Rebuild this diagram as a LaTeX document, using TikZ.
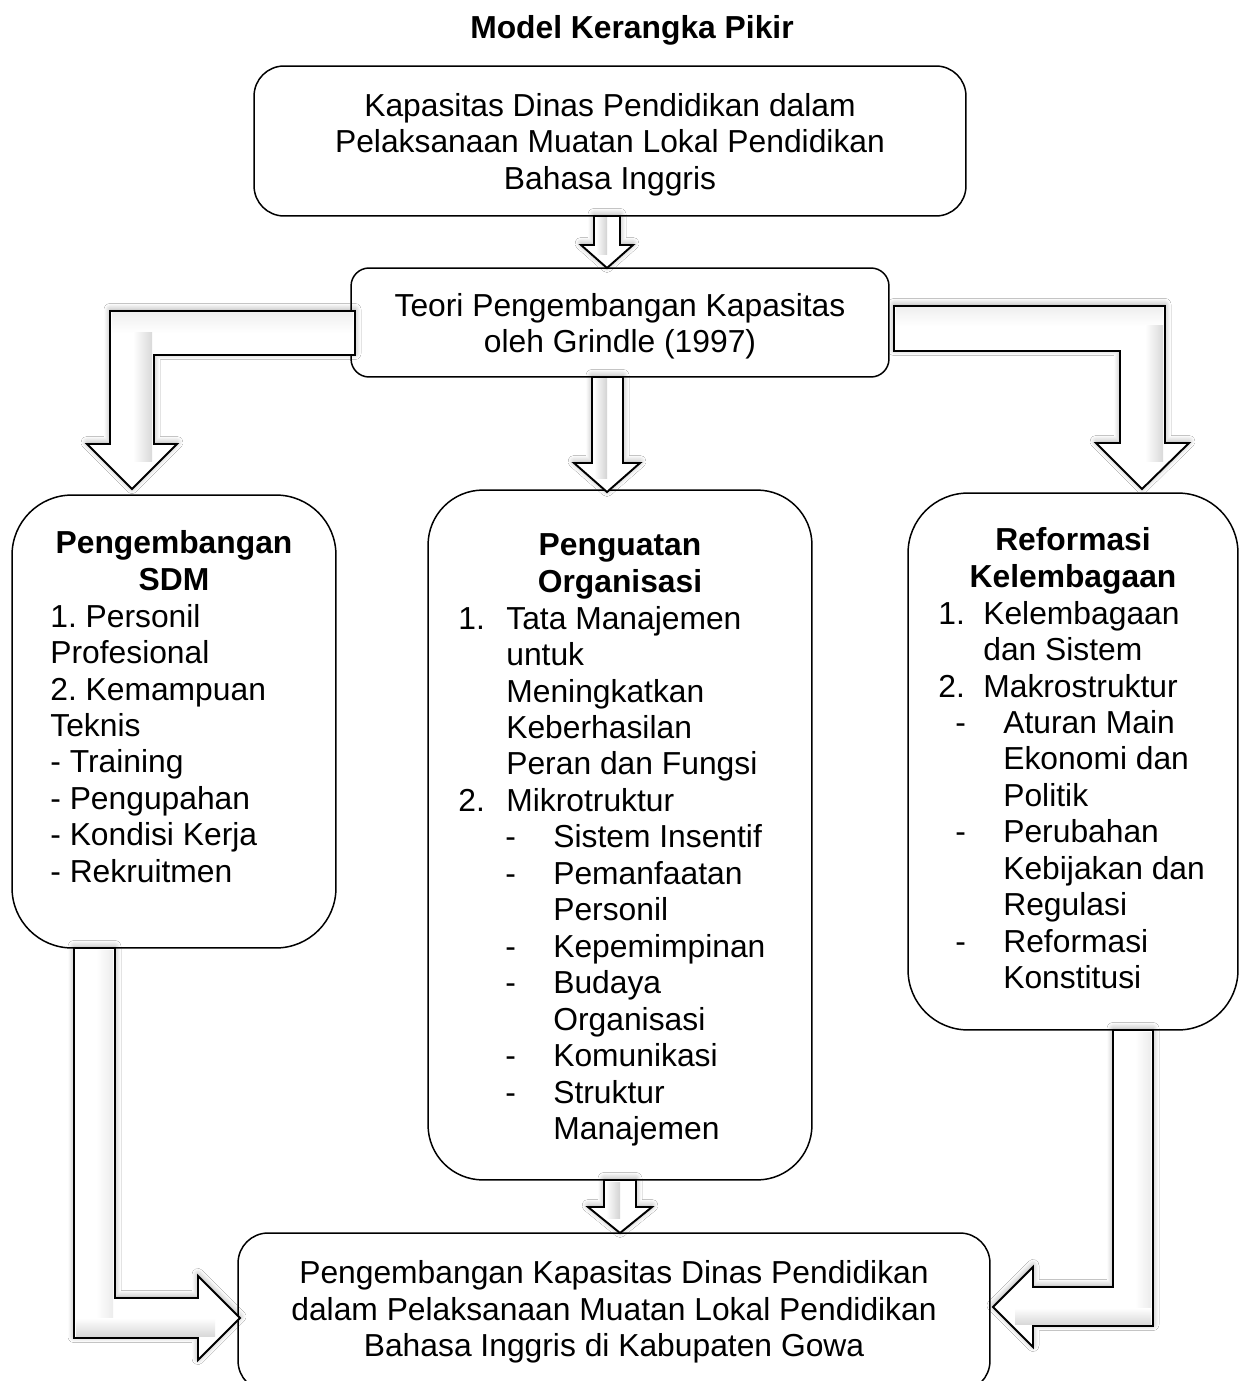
\documentclass[tikz,border=0pt]{standalone}
\usepackage{fontspec}
\setmainfont{Liberation Sans}
\usetikzlibrary{shadows.blur}

\newcommand{\barisatas}{\rule{0pt}{17.2pt}}

\tikzset{
  kotak/.style={draw, line width=0.85pt, rounded corners=#1, inner sep=0pt, align=center},
  kotak/.default=0.6cm,
  isi/.style={inner sep=0pt, align=left},
  judul/.style={inner sep=0pt, align=center, font=\fontsize{18.1pt}{20.75pt}\selectfont\frenchspacing\bfseries},
  panah/.style={draw, line width=1.1pt, fill=white},
  bayang/.style={blur shadow={shadow xshift=0pt, shadow yshift=0.3mm, shadow opacity=35, shadow blur radius=1.2mm, shadow blur steps=8}},
}

\begin{document}
\begin{tikzpicture}[x=0.02cm, y=-0.02cm, font=\fontsize{18.1pt}{20.75pt}\selectfont\frenchspacing]
  \clip (0,0) rectangle (1244,1381);
  \fill[white] (0,0) rectangle (1244,1381);

  % judul
  \node[judul, anchor=base] (judul) at (632,39) {Model Kerangka Pikir};

  % kotak atas
  \node[kotak=0.6cm, minimum width=14.24cm, minimum height=3cm] (kapasitas) at (610,141)
    {\barisatas Kapasitas Dinas Pendidikan dalam\\Pelaksanaan Muatan Lokal Pendidikan\\Bahasa Inggris};
  \node[kotak=0.36cm, minimum width=10.76cm, minimum height=2.18cm] (teori) at (620,322.5)
    {\barisatas Teori Pengembangan Kapasitas\\oleh Grindle (1997)};

  % tiga dimensi
  \node[kotak=1.2cm, minimum width=6.48cm, minimum height=9.06cm] (sdm) at (174,721.5) {};
  \node[kotak=1.1cm, minimum width=7.68cm, minimum height=13.8cm] (org) at (620,835) {};
  \node[kotak=1.2cm, minimum width=6.6cm, minimum height=10.74cm] (ref) at (1073,761.5) {};

  \node[judul, anchor=north] (sdmjudul) at (174,530.5) {Pengembangan\\SDM};
  \node[isi, anchor=north west] (sdmisi) at (50,603.7)
    {1. Personil\\Profesional\\2. Kemampuan\\Teknis\\- Training\\- Pengupahan\\- Kondisi Kerja\\- Rekruitmen};

  \node[judul, anchor=north] (orgjudul) at (620,533.5) {Penguatan\\Organisasi};
  \node[isi, anchor=north west] (orgisi) at (458,605.7)
    {\makebox[0.96cm][l]{1.}Tata Manajemen\\
     \hspace*{0.96cm}untuk\\
     \hspace*{0.96cm}Meningkatkan\\
     \hspace*{0.96cm}Keberhasilan\\
     \hspace*{0.96cm}Peran dan Fungsi\\
     \makebox[0.96cm][l]{2.}Mikrotruktur\\
     \hspace*{0.94cm}\makebox[0.96cm][l]{-}Sistem Insentif\\
     \hspace*{0.94cm}\makebox[0.96cm][l]{-}Pemanfaatan\\
     \hspace*{1.9cm}Personil\\
     \hspace*{0.94cm}\makebox[0.96cm][l]{-}Kepemimpinan\\
     \hspace*{0.94cm}\makebox[0.96cm][l]{-}Budaya\\
     \hspace*{1.9cm}Organisasi\\
     \hspace*{0.94cm}\makebox[0.96cm][l]{-}Komunikasi\\
     \hspace*{0.94cm}\makebox[0.96cm][l]{-}Struktur\\
     \hspace*{1.9cm}Manajemen};

  \node[judul, anchor=north] (refjudul) at (1073,527.5) {Reformasi\\Kelembagaan};
  \node[isi, anchor=north west] (refisi) at (938,600.7)
    {\makebox[0.9cm][l]{1.}Kelembagaan\\
     \hspace*{0.9cm}dan Sistem\\
     \makebox[0.9cm][l]{2.}Makrostruktur\\
     \hspace*{0.34cm}\makebox[0.96cm][l]{-}Aturan Main\\
     \hspace*{1.3cm}Ekonomi dan\\
     \hspace*{1.3cm}Politik\\
     \hspace*{0.34cm}\makebox[0.96cm][l]{-}Perubahan\\
     \hspace*{1.3cm}Kebijakan dan\\
     \hspace*{1.3cm}Regulasi\\
     \hspace*{0.34cm}\makebox[0.96cm][l]{-}Reformasi\\
     \hspace*{1.3cm}Konstitusi};

  % kotak hasil
  \node[kotak=0.6cm, minimum width=15.04cm, minimum height=3.16cm] (hasil) at (614,1312)
    {Pengembangan Kapasitas Dinas Pendidikan\\dalam Pelaksanaan Muatan Lokal Pendidikan\\Bahasa Inggris di Kabupaten Gowa};

  % panah lurus
  \draw[panah, bayang] (594,216) -- (620,216) -- (620,245) -- (633,245) -- (607,268) -- (581,245) -- (594,245) -- cycle;
  \shade[left color=white, right color=gray!35] (596,218) rectangle (607,255);

  \draw[panah, bayang] (592,377) -- (623,377) -- (623,463) -- (640,463) -- (607,492) -- (574,463) -- (592,463) -- cycle;
  \shade[left color=white, right color=gray!35] (594,379) rectangle (607,478);

  \draw[panah, bayang] (604,1180) -- (636,1180) -- (636,1207) -- (652,1207) -- (620,1233) -- (588,1207) -- (604,1207) -- cycle;
  \shade[left color=white, right color=gray!35] (606,1182) rectangle (620,1218);

  % panah belok atas
  \draw[panah, bayang] (355,311) -- (110,311) -- (110,444) -- (87,444) -- (132,489) -- (177,444) -- (154,444) -- (154,355) -- (355,355) -- cycle;
  \shade[top color=gray!12, bottom color=white] (112,313) rectangle (353,333);
  \shade[left color=white, right color=gray!30] (133,333) rectangle (152,462);

  \draw[panah, bayang] (894,306) -- (1165,306) -- (1165,443) -- (1189,443) -- (1142,489) -- (1096,443) -- (1120,443) -- (1120,351) -- (894,351) -- cycle;
  \shade[top color=gray!12, bottom color=white] (896,308) rectangle (1163,326);
  \shade[left color=white, right color=gray!30] (1145,326) rectangle (1163,462);

  % panah belok bawah
  \draw[panah, bayang] (74,948) -- (115,948) -- (115,1298) -- (198,1298) -- (198,1276) -- (240,1318) -- (198,1360) -- (198,1338) -- (74,1338) -- cycle;
  \shade[left color=white, right color=gray!15] (96,950) rectangle (113,1318);
  \shade[top color=white, bottom color=gray!30] (76,1318) rectangle (215,1336);

  \draw[panah, bayang] (1153,1030) -- (1113,1030) -- (1113,1287) -- (1033,1287) -- (1033,1267) -- (993,1307) -- (1033,1347) -- (1033,1326) -- (1153,1326) -- cycle;
  \shade[left color=white, right color=gray!15] (1135,1032) rectangle (1151,1307);
  \shade[top color=white, bottom color=gray!30] (1015,1308) rectangle (1151,1324);
\end{tikzpicture}
\end{document}
